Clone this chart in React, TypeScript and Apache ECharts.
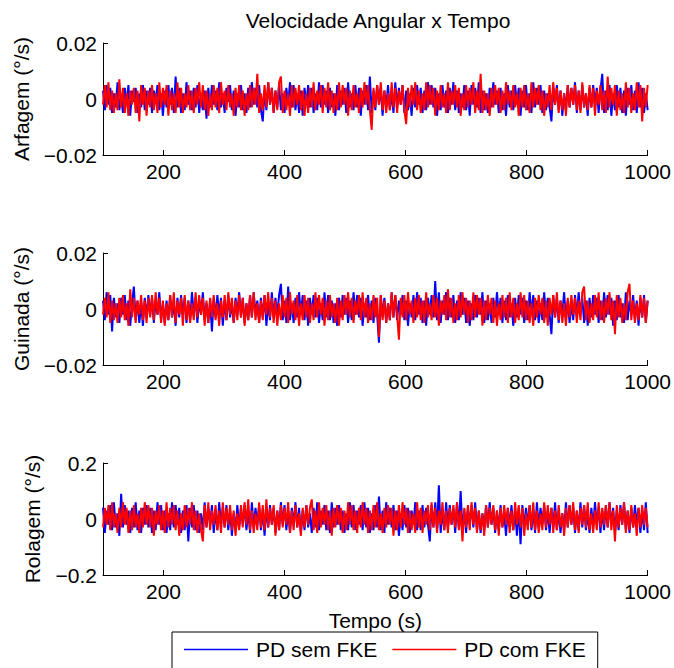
import React, { useEffect, useRef } from "react";
import * as echarts from "echarts";

// Time axis sampling (s)
const T_START = 100;
const T_STEP = 3;

const X_TICKS = [200, 400, 600, 800, 1000];
const TITLE = "Velocidade Angular x Tempo";
const X_NAME = "Tempo (s)";
const Y_NAMES = ["Arfagem (°/s)", "Guinada (°/s)", "Rolagem (°/s)"];
const SERIES_NAMES = ["PD sem FKE", "PD com FKE"];
const Y_LIMITS = [0.02, 0.02, 0.2];

// Arfagem (°/s)
const arfagemSem = [
  .003,-.004,.005,-.002,.004,-.005,.002,-.003,.006,-.004,.001,-.005,.004,-.002,.005,-.006,.003,-.001,.004,-.005,.002,-.003,.005,-.004,.003,
  -.002,.004,-.005,.003,-.001,.005,-.004,.002,-.006,.003,-.003,.005,-.002,.004,-.005,.008,-.003,.004,-.005,.002,-.004,.006,-.002,.003,-.004,
  .004,-.003,.005,-.005,.002,-.004,.003,-.007,.004,-.003,.005,-.002,.003,-.004,.006,-.003,.002,-.005,.004,-.001,.005,-.004,.003,-.006,.002,
  -.003,.005,-.004,.002,-.005,.004,-.003,.006,-.002,.004,-.003,.005,-.004,-.008,.003,-.004,.006,-.002,.004,-.005,.003,-.003,.005,-.004,.002,
  -.005,.004,-.002,.006,-.003,.005,-.004,.002,-.005,.003,-.006,.004,-.002,.005,-.003,.004,-.005,.002,-.004,.006,-.003,.005,-.002,.003,-.005,
  .004,-.003,.002,-.006,.005,-.004,.003,-.002,.004,-.005,.006,-.003,.002,-.004,.005,-.003,.004,-.006,.003,-.002,.005,-.004,.008,-.005,.003,
  -.004,.005,-.002,.004,-.006,.003,-.003,.005,-.004,.002,-.005,.006,-.003,.004,-.002,.005,-.005,.003,-.004,.002,-.006,.004,-.003,.005,-.002,
  .004,-.005,.003,-.004,.006,-.002,.005,-.003,.004,-.006,.002,-.004,.005,-.003,.003,-.005,.004,-.002,.006,-.004,.003,-.005,.002,-.003,.005,
  -.004,.003,-.006,.005,-.002,.004,-.003,.006,-.005,.003,-.004,.002,-.005,.004,-.003,.006,-.002,.003,-.005,.004,-.004,.002,-.006,.005,-.003,
  .003,-.004,.005,-.002,.004,-.006,.003,-.003,.005,-.004,.002,-.005,.006,-.003,.004,-.002,.005,-.005,.003,-.004,.002,-.003,-.008,.004,-.002,
  .005,-.004,.003,-.006,.002,-.004,.005,-.003,.004,-.002,.006,-.005,.003,-.004,.005,-.003,.002,-.006,.004,-.003,.005,-.002,.004,-.005,.003,
  .009,-.005,.003,-.004,.005,-.006,.002,-.004,.005,-.003,.004,-.005,.003,-.006,.004,-.002,.005,-.004,.003,-.005,.006,-.003,.004,-.005,.002,
  -.004,
];
const arfagemCom = [
  -.002,.005,-.003,.006,-.004,.003,-.005,.002,-.004,.007,-.003,.004,-.005,.002,-.006,.003,-.002,.004,-.005,.003,-.008,.005,-.002,.004,-.006,
  .003,-.003,.005,-.004,.002,-.005,.006,-.003,.004,-.002,.005,-.006,.003,-.004,.002,-.005,.006,-.003,.004,-.005,.002,-.003,.005,-.004,.003,
  -.005,.004,-.002,.006,-.003,.005,-.004,.003,-.006,.002,-.004,.005,-.003,.004,-.005,.006,-.002,.003,-.004,.005,-.003,.002,-.006,.004,-.003,
  .005,-.004,.003,-.006,.002,-.004,.005,-.003,.004,-.002,.009,-.005,.002,-.004,.005,-.003,.006,-.002,.004,-.005,.003,-.004,.006,.008,-.005,
  .003,-.004,.002,-.006,.005,-.003,.004,-.002,.005,-.004,.003,-.006,.002,-.005,.004,-.003,.006,-.004,.003,-.002,.005,-.005,.004,-.003,.006,
  -.004,.003,-.005,.002,-.004,.006,-.003,.005,-.002,.004,-.006,.003,-.004,.005,-.003,.002,-.005,.004,-.003,.006,-.002,.005,-.004,-.011,.004,
  -.003,.005,-.002,.006,-.004,.003,-.005,.002,-.004,.006,-.003,.004,-.005,.003,-.002,.005,-.004,-.009,.004,-.003,.005,-.002,.006,-.004,.003,
  -.005,.002,-.004,.006,-.003,.005,-.002,.004,-.006,.003,-.004,.005,-.003,.002,-.005,.006,-.004,.003,-.002,.005,-.003,.004,-.006,.002,-.004,
  .005,-.003,.004,-.002,.006,-.005,.003,-.004,.009,-.005,.003,-.004,.002,-.006,.004,-.003,.005,-.002,.004,-.005,.003,-.004,.006,-.002,.003,
  -.004,.005,-.003,.002,-.006,.004,-.003,.005,-.004,.002,-.005,.006,-.003,.004,-.002,.005,-.004,.003,-.006,.002,-.003,.005,-.004,.006,-.002,
  .004,-.005,.003,-.004,.002,-.006,.005,-.003,.004,-.002,.005,-.004,.003,-.005,.006,-.003,.002,-.004,.005,-.003,.004,-.006,.003,-.002,.005,
  -.004,.003,-.005,.008,-.003,.004,-.002,.005,-.006,.003,-.004,.002,-.005,.006,-.003,.004,-.005,.002,-.004,.006,-.003,.005,-.008,.004,-.003,
  .005,
];

// Guinada (°/s)
const guinadaSem = [
  .003,-.004,.006,-.002,.005,-.008,.004,-.003,.002,-.005,.004,-.002,.005,-.004,.003,-.006,.002,.008,-.004,.003,-.005,.002,-.006,.004,-.003,
  .005,-.002,.004,-.005,.003,-.002,.006,-.004,.002,-.005,.003,-.004,.005,-.003,.002,-.006,.004,-.003,.005,-.002,.004,-.005,.003,-.004,.006,
  -.002,.004,-.005,.003,-.002,.006,-.004,.002,-.005,.003,-.008,.004,-.003,.005,-.002,.004,-.006,.003,-.004,.005,-.003,.002,-.005,.004,-.002,
  .006,-.003,.004,-.005,.002,-.004,.005,-.003,.006,-.002,.003,-.005,.004,-.003,.005,-.006,.002,-.004,.006,-.003,.004,-.002,.005,.009,-.004,
  .003,-.005,.008,-.004,.002,-.005,.004,-.003,.006,-.002,.005,-.004,.003,-.006,.004,-.002,.005,-.003,.004,-.005,.002,-.004,.006,-.003,.005,
  -.004,.003,-.005,.002,-.006,.004,-.003,.005,-.002,.004,-.005,.003,-.004,.006,-.002,.005,-.003,.004,-.006,.002,-.003,.005,-.004,.003,-.005,
  .004,-.002,-.012,.005,-.003,.004,-.005,.002,-.004,.006,-.003,.005,-.004,.003,-.002,.005,-.004,.003,-.006,.002,-.003,.005,-.004,.006,-.002,
  .004,-.005,.003,-.006,.004,-.002,.005,-.003,.010,-.004,.006,-.005,.003,-.002,.006,-.004,.004,-.003,.005,-.005,.003,-.004,.006,-.002,.004,
  -.005,.003,-.006,.002,-.004,.005,-.003,.004,-.002,.006,-.005,.003,-.004,.002,-.005,.004,-.003,.006,-.002,.004,-.005,.003,-.004,.005,-.003,
  .002,-.006,.004,-.003,.005,-.002,.004,-.005,.003,-.004,.006,-.002,.005,-.004,.003,-.005,.002,-.004,.006,-.003,.004,-.002,-.009,.005,-.003,
  .004,-.005,.003,-.002,.006,-.004,.003,-.005,.002,-.004,.005,-.003,.006,-.002,.004,-.005,.003,-.006,.004,-.003,.005,-.002,.004,-.005,.003,
  -.004,.006,-.003,.005,-.002,.004,-.006,.003,-.004,.005,-.003,.002,-.005,.006,-.004,.003,-.002,.005,-.004,.003,-.006,.004,-.003,.005,-.005,
  .003,
];
const guinadaCom = [
  -.002,.004,-.003,.006,-.005,.003,-.004,.002,-.005,.004,-.003,.005,-.004,.002,-.006,.007,-.003,.004,-.005,.003,-.002,.005,-.004,.003,-.005,
  .004,-.003,.005,-.004,.006,-.002,.004,-.005,.003,-.006,.002,-.004,.005,-.003,.006,-.005,.003,-.002,.004,-.006,.005,-.004,.003,-.005,.002,
  -.004,.006,-.003,.005,-.002,.004,-.006,.003,-.005,.004,-.003,.005,-.004,.002,-.006,.003,-.003,.005,-.004,.006,-.002,.004,-.005,.003,-.004,
  .005,-.003,.004,-.006,.002,-.004,.005,-.003,.006,-.004,.002,-.005,.003,-.004,.005,-.002,.006,-.003,.004,-.005,.003,-.006,.002,-.004,.005,
  -.003,.004,-.005,.006,-.002,.003,-.004,.005,-.006,.002,-.004,.005,-.003,.004,-.005,.002,-.004,.006,-.003,.005,-.002,.004,-.006,.003,-.004,
  .005,-.003,.002,-.005,.004,-.006,.003,-.004,.005,-.002,.006,-.003,.004,-.005,.003,-.002,.005,-.004,.006,-.003,.004,-.005,.002,-.004,.005,
  -.003,.004,-.010,.005,-.004,.003,-.005,.002,-.004,.006,-.003,.005,-.002,-.011,.004,-.003,.005,-.004,.006,-.002,.003,-.005,.004,-.003,.005,
  -.004,.003,-.005,.006,-.003,.002,-.004,.005,-.003,.004,-.006,.003,-.002,.005,-.004,.007,-.003,.004,-.005,.002,-.004,.005,-.003,.006,-.002,
  .004,-.005,.003,-.004,.006,-.003,.005,-.002,.004,-.006,.003,-.004,.005,-.002,.004,-.005,.003,-.006,.002,-.004,.005,-.003,.004,-.005,.006,
  -.003,.004,-.005,.002,-.004,.006,-.003,.005,-.004,.003,-.005,.002,-.006,.004,-.003,.005,-.002,.004,-.005,.003,-.006,.004,-.002,.005,-.003,
  .006,-.004,.003,-.005,.002,-.006,.004,-.003,.005,-.002,.004,-.005,.003,-.004,.006,.008,-.004,.003,-.005,.002,-.004,.005,-.003,.006,-.004,
  .003,-.005,.004,-.002,.006,-.004,.003,-.009,.005,-.003,.004,-.005,.002,-.004,.006,.009,-.004,.003,-.005,.002,-.004,.005,-.003,.004,-.005,
  .003,
];

// Rolagem (°/s)
const rolagemSem = [
  .04,-.05,.03,-.02,.05,-.04,.06,-.03,.02,-.06,.09,-.03,.05,-.02,.03,-.05,.04,-.03,.06,-.04,.03,-.05,.04,-.02,.05,
  -.03,.04,-.05,.03,-.04,.06,-.02,.05,-.04,.03,-.05,.02,-.04,.06,-.03,.05,-.02,.04,-.05,.03,-.04,.05,-.08,.04,-.03,
  .05,-.04,.03,-.05,.02,-.04,.06,-.03,.04,-.02,.05,-.05,.03,-.04,.06,-.02,.04,-.03,.05,-.04,.03,-.06,.02,-.04,.05,
  -.03,.04,-.02,.05,-.04,.03,-.05,.06,-.03,.04,-.02,.05,-.04,.03,-.06,.04,-.03,.05,-.02,.04,-.05,.03,-.04,.06,-.02,
  .05,-.04,.03,-.05,.04,-.02,.06,-.03,.04,-.05,.03,-.04,.05,-.03,.02,-.05,.04,-.03,.06,-.04,.03,-.02,.05,-.04,.03,
  -.05,.06,-.03,.04,-.02,.05,-.04,.03,-.05,.02,-.04,.06,-.03,.05,-.04,.03,-.02,.05,-.04,.06,-.03,.04,-.05,.02,-.04,
  .05,-.03,.08,-.04,.03,-.05,.06,-.02,.04,-.03,.05,-.04,.03,-.06,.02,-.04,.05,-.03,.04,-.05,.03,-.02,.06,-.04,.03,
  -.04,.05,-.03,.04,-.02,-.08,.05,-.03,.06,-.04,.12,-.05,.03,-.04,.06,-.03,.05,-.02,.04,-.05,.06,-.03,.10,-.04,.03,
  -.05,.04,-.02,.05,-.03,.06,-.04,.03,-.05,.02,-.04,.05,-.03,.06,-.02,.04,-.05,.03,-.04,.05,-.03,.02,-.06,.04,-.03,
  .05,-.04,.03,-.06,.04,-.09,.05,-.03,.04,-.02,.05,-.04,.03,-.05,.06,-.03,.04,-.02,.05,-.04,.03,-.05,.04,-.03,.06,
  -.04,.03,-.05,.02,-.04,.06,-.03,.05,-.02,.04,-.05,.03,-.04,.06,-.03,.05,-.04,.02,-.05,.04,-.03,.06,-.02,.04,-.05,
  .03,-.04,.05,-.03,.06,-.02,.04,-.05,.03,-.04,.05,-.02,.06,-.04,.03,-.05,.04,-.03,.05,-.02,.04,-.05,.03,-.04,.06,
  -.05,
];
const rolagemCom = [
  -.03,.04,-.02,.05,-.04,.06,-.03,.02,-.05,.04,-.03,.06,-.02,.04,-.05,.03,-.04,.05,-.03,.02,-.05,.04,-.03,.06,-.02,
  .05,-.03,.04,-.06,.03,-.02,.05,-.04,.03,-.05,.06,-.03,.04,-.02,.05,-.04,.03,-.06,.02,-.04,.05,-.03,.04,-.02,.06,
  -.04,.03,-.05,.02,-.04,-.08,.05,-.03,.06,-.04,.03,-.02,.05,-.04,.03,-.05,.06,-.03,.04,-.02,.05,-.04,.03,-.06,.02,
  -.04,.05,-.03,.06,-.02,.07,-.04,.03,-.05,.02,-.04,.06,-.03,.05,-.04,.07,-.03,.04,-.02,.05,-.06,.03,-.04,.05,-.03,
  .04,-.02,.06,-.05,.03,-.04,.05,-.03,.02,-.06,.04,-.03,.05,-.02,.04,.07,-.04,.03,-.05,.06,-.03,.04,-.02,.05,-.04,
  .03,-.06,.04,-.03,.05,-.02,.04,-.05,.03,-.04,.06,-.02,.05,-.04,.03,-.05,.04,-.03,.06,-.02,.04,-.05,.03,-.04,.05,
  -.03,.06,-.04,.02,-.05,.04,-.03,.05,-.02,.04,-.06,.03,-.04,.05,-.03,.06,-.02,.04,-.05,.03,-.04,.02,-.05,.06,-.03,
  .04,-.05,.03,-.02,.05,-.04,.06,-.03,.04,-.05,.03,-.02,.06,-.04,.03,-.05,.04,-.02,.05,-.03,.06,-.04,.03,-.08,.04,
  -.03,.05,-.04,.06,-.02,.04,-.05,.03,-.04,.02,-.06,.05,-.03,.04,-.02,.05,-.04,.03,-.06,.04,-.03,.05,-.02,.04,-.05,
  .03,-.04,.06,-.02,.05,-.03,.04,-.06,.02,-.04,.05,-.03,.06,-.04,.03,-.05,.02,-.04,.06,-.03,.05,-.02,.04,-.05,.03,
  -.04,.05,-.03,.02,-.06,.04,-.03,.05,-.02,.06,-.04,.03,-.05,.04,-.02,.05,-.03,.06,-.04,.02,-.05,.03,-.04,.06,-.03,
  .04,-.02,.05,-.03,.06,-.04,.03,-.08,.05,-.03,.04,-.02,.06,-.05,.03,-.04,.05,-.03,.02,-.06,.04,-.03,.05,-.02,.04,
  -.03,
];

const PANELS = [
  [arfagemSem, arfagemCom],
  [guinadaSem, guinadaCom],
  [rolagemSem, rolagemCom],
];
const COLORS = ["#0000ff", "#ff0000"];

const FONT = "'Liberation Sans', Arial, Helvetica, sans-serif";
const GRID_TOPS = [43, 253, 463];
const GRID_H = 112;
const NAME_GAPS = [71, 71, 60];

function fmt(v: number, dec: number): string {
  if (Math.abs(v) < 1e-9) return "0";
  const s = Math.abs(v).toFixed(dec);
  return v < 0 ? "\u2212" + s : s;
}

export default function App() {
  const ref = useRef<HTMLDivElement>(null);
  useEffect(() => {
    if (!ref.current) return;
    const chart = echarts.init(ref.current, undefined, { renderer: "svg" });
    const textStyle = { fontFamily: FONT, fontSize: 21, color: "#000" };

    const grid = GRID_TOPS.map((top) => ({
      left: 103,
      right: 26,
      top,
      height: GRID_H,
      containLabel: false,
    }));

    const xAxis = GRID_TOPS.map((_, i) => ({
      type: "value",
      gridIndex: i,
      min: T_START,
      max: 1000,
      axisLine: { show: true, onZero: false, lineStyle: { color: "#000", width: 1 } },
      axisTick: {
        show: true,
        inside: true,
        length: 5,
        customValues: X_TICKS,
        lineStyle: { color: "#000" },
      },
      axisLabel: {
        customValues: X_TICKS,
        margin: 6,
        formatter: (v: number) => String(v),
        ...textStyle,
      },
      splitLine: { show: false },
      name: i === 2 ? X_NAME : "",
      nameLocation: "middle",
      nameGap: 35,
      nameTextStyle: textStyle,
    }));

    const yAxis = GRID_TOPS.map((_, i) => {
      const lim = Y_LIMITS[i];
      const dec = i === 2 ? 1 : 2;
      return {
        type: "value",
        gridIndex: i,
        min: -lim,
        max: lim,
        interval: lim,
        axisLine: { show: true, onZero: false, lineStyle: { color: "#000", width: 1 } },
        axisTick: { show: true, inside: true, length: 5, lineStyle: { color: "#000" } },
        axisLabel: {
          margin: 6,
          formatter: (v: number) => fmt(v, dec),
          ...textStyle,
        },
        splitLine: { show: false },
        name: Y_NAMES[i],
        nameLocation: "middle",
        nameRotate: 90,
        nameGap: NAME_GAPS[i],
        nameTextStyle: textStyle,
      };
    });

    const series: any[] = [];
    PANELS.forEach((pair, gi) => {
      pair.forEach((vals, si) => {
        series.push({
          type: "line",
          name: SERIES_NAMES[si],
          xAxisIndex: gi,
          yAxisIndex: gi,
          data: vals.map((v, k) => [T_START + k * T_STEP, v]),
          symbol: "none",
          showSymbol: false,
          silent: true,
          lineStyle: { color: COLORS[si], width: 2 },
          itemStyle: { color: COLORS[si] },
          z: 2 + si,
        });
      });
    });

    chart.setOption({
      animation: false,
      backgroundColor: "#fff",
      grid,
      xAxis,
      yAxis,
      series,
      legend: {
        data: SERIES_NAMES,
        left: 172,
        top: 632,
        orient: "horizontal",
        padding: [7, 12, 14, 12],
        borderColor: "#000",
        borderWidth: 1,
        icon: "rect",
        itemWidth: 64,
        itemHeight: 1.5,
        itemGap: 15,
        selectedMode: false,
        textStyle: { ...textStyle, padding: [0, 0, 0, 3] },
      },
      graphic: [
        {
          type: "text",
          x: 378,
          y: 20,
          style: {
            text: TITLE,
            align: "center",
            verticalAlign: "middle",
            fontFamily: FONT,
            fontSize: 21,
            fill: "#000",
          },
        },
      ],
    });
    return () => chart.dispose();
  }, []);

  return (
    <div
      ref={ref}
      style={{ position: "fixed", left: 0, top: 0, width: 674, height: 668, background: "#fff" }}
    />
  );
}
